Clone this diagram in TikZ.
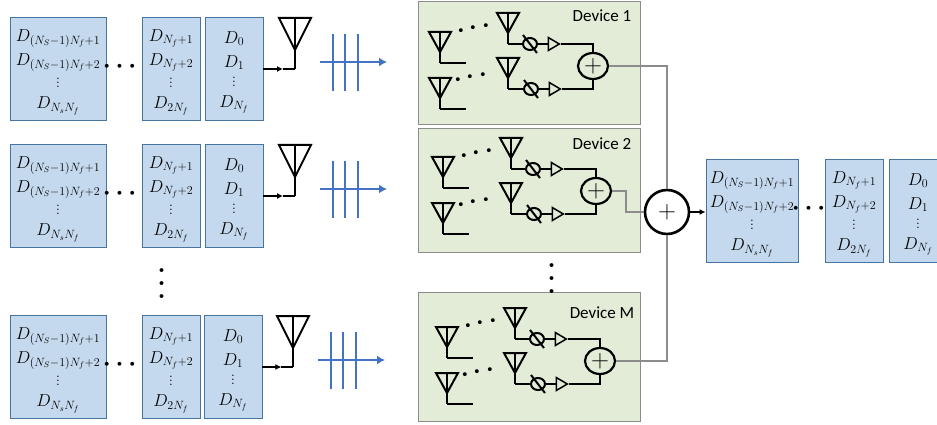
\documentclass[tikz,border=0pt]{standalone}
\usepackage{fontspec}
\setsansfont{Carlito}
\usepackage{amsmath}
\usetikzlibrary{arrows.meta,positioning,shapes.geometric,calc}
\definecolor{stackblue}{RGB}{197,217,238}
\definecolor{stackedge}{RGB}{72,116,160}
\definecolor{devgreen}{RGB}{226,236,215}
\definecolor{arrowblue}{RGB}{68,114,196}
\definecolor{wiregray}{RGB}{140,140,140}
\newcommand{\stackhigh}{\rule{0pt}{19pt}$D_{(N_S-1)N_f+1}$\\[5pt]$D_{(N_S-1)N_f+2}$\\[0pt]$\vdots$\\[2pt]$D_{N_sN_f}$}
\newcommand{\stackmid}{\rule{0pt}{19pt}$D_{N_f+1}$\\[5pt]$D_{N_f+2}$\\[0pt]$\vdots$\\[2pt]$D_{2N_f}$}
\newcommand{\stacklow}{\rule{0pt}{19pt}$D_0$\\[5pt]$D_1$\\[0pt]$\vdots$\\[2pt]$D_{N_f}$}
\tikzset{
    stackbox/.style={draw=stackedge, fill=stackblue, line width=0.9pt, inner sep=0pt, align=center,
        minimum height=103pt, font=\fontsize{17}{19}\selectfont},
    devbox/.style={draw=wiregray, fill=devgreen, line width=1pt, anchor=north west, inner sep=0pt, minimum width=222pt},
    wire/.style={draw=black, line width=2pt},
    graywire/.style={draw=wiregray, line width=2.2pt},
    sumnode/.style={draw=black, fill=none, ellipse, line width=2.2pt, inner sep=0pt, minimum width=30pt, minimum height=26pt, font=\fontsize{28}{28}\selectfont},
    phasenode/.style={draw=black, ellipse, line width=2pt, inner sep=0pt, minimum width=14pt, minimum height=12pt},
    ampnode/.style={draw=black, isosceles triangle, isosceles triangle stretches, line width=1.5pt, inner sep=0pt, minimum width=13pt, minimum height=11pt},
    dotsnode/.style={inner sep=0pt, font=\fontsize{36}{36}\selectfont\boldmath},
    smalldots/.style={inner sep=0pt, rotate=10, font=\fontsize{28}{28}\selectfont\boldmath},
    namelabel/.style={font=\sffamily\fontsize{17}{17}\selectfont},
    txantenna/.pic={
        \draw[wire] (-16,0) -- (16,0) -- (0,32) -- cycle;
        \draw[wire] (0,0) -- (0,51) coordinate (-foot);
    },
    devantenna/.pic={
        \draw[wire] (-11,0) -- (11,0) -- (0,20) -- cycle;
        \draw[wire] (0,0) -- (0,31) coordinate (-foot);
    },
    devparts/.pic={
        % Receive antennas
        \pic (-rxa) at (22,31) {devantenna};
        \pic (-rxb) at (22,77) {devantenna};
        \draw[wire] (-rxa-foot) -- ++(26,0);
        \draw[wire] (-rxb-foot) -- ++(26,0);
        \node[smalldots] (-dota) at (58,27) {$\cdots$};
        \node[smalldots] (-dotb) at (55,76) {$\cdots$};
        % Branches
        \pic (-rfa) at (90,12) {devantenna};
        \pic (-rfb) at (90,57) {devantenna};
        \node[phasenode] (-psa) at (112,43) {};
        \node[phasenode] (-psb) at (113,88) {};
        \node[ampnode] (-ampa) at (134,43) {};
        \node[ampnode] (-ampb) at (135,88) {};
        \node[sumnode] (-sum) at (175,65) {$+$};
        \draw[wire] (-rfa-foot) -- (-psa);
        \draw[wire] (-rfb-foot) -- (-psb);
        \draw[wire] (-psa) -- (-ampa);
        \draw[wire] (-psb) -- (-ampb);
        \draw[wire] (-ampa.apex) -| (-sum);
        \draw[wire] (-ampb.apex) -| (-sum);
        \draw[wire] (105,34) -- (119,52);
        \draw[wire] (106,79) -- (120,97);
    },
}
\begin{document}
\begin{tikzpicture}[x=1pt,y=-1pt]
    \useasboundingbox (0,0) rectangle (937,425);

    % Transmit rows
    \foreach \rw/\ry/\ax/\bx in {1/17/0/0,2/144/0/0,3/315/-2/-1}{
        \node[stackbox, minimum width=96pt] (high\rw) at (58,\ry+51.5) {\stackhigh};
        \node[stackbox, minimum width=58pt] (mid\rw) at (171,\ry+51.5) {\stackmid};
        \node[stackbox, minimum width=58pt] (low\rw) at (234+\bx,\ry+51.5) {\stacklow};
        \node[dotsnode] (dots\rw) at (122,\ry+50) {$\cdots$};
        \pic (ant\rw) at (295+\ax,\ry+1) {txantenna};
        \coordinate (tap\rw) at ($(low\rw.east |- ant\rw-foot)!0.62!(ant\rw-foot)$);
        \draw[wire, -{Latex[length=6pt,width=6pt]}] (low\rw.east |- ant\rw-foot) -- (tap\rw);
        \draw[wire] (tap\rw) -- (ant\rw-foot);
        % Blue arrow and bars
        \coordinate (txa\rw) at (320+\ax,\ry+45);
        \coordinate (txb\rw) at (387+\ax,\ry+45);
        \draw[arrowblue, line width=2.5pt, -{Latex[length=8pt,width=9pt]}] (txa\rw) -- (txb\rw);
        \foreach \bar in {333,345,358}{
            \draw[arrowblue, line width=2.5pt] (\bar+\ax,\ry+17) -- (\bar+\ax,\ry+74);
        }
    }
    \node[dotsnode, rotate=90] (rowdots) at (162,281) {$\cdots$};

    % Devices
    \node[devbox, minimum height=123pt] (dev1box) at (418,1) {};
    \node[devbox, minimum height=124pt] (dev2box) at (418,128) {};
    \node[devbox, minimum height=129pt] (dev3box) at (418,292) {};
    \pic (dev1) at (418,1) {devparts};
    \pic (dev2) at (421,126) {devparts};
    \pic (dev3) at (425,296) {devparts};
    \node[namelabel] (dev1name) at (602,16) {Device 1};
    \node[namelabel] (dev2name) at (602,144) {Device 2};
    \node[namelabel] (dev3name) at (602,313) {Device M};
    \node[dotsnode, rotate=90] (devdots) at (552,276) {$\cdots$};

    % Combiner
    \node[sumnode, circle, minimum size=44pt, line width=2.6pt, font=\fontsize{32}{32}\selectfont] (combiner) at (667,212) {$+$};
    \draw[graywire] (dev1-sum) -| (combiner);
    \draw[graywire] (dev2-sum.east) -- ++(14,0) |- (combiner);
    \draw[graywire] (dev3-sum) -| (combiner);

    % Received stack
    \node[stackbox, minimum width=92pt] (outhigh) at (752,210.5) {\stackhigh};
    \node[stackbox, minimum width=58pt] (outmid) at (854,210.5) {\stackmid};
    \node[stackbox, minimum width=58pt] (outlow) at (918,210.5) {\stacklow};
    \node[dotsnode] (outdots) at (811,209) {$\cdots$};
    \draw[wire, -{Latex[length=6pt,width=6pt]}] (combiner) -- (combiner -| outhigh.west);
\end{tikzpicture}
\end{document}
